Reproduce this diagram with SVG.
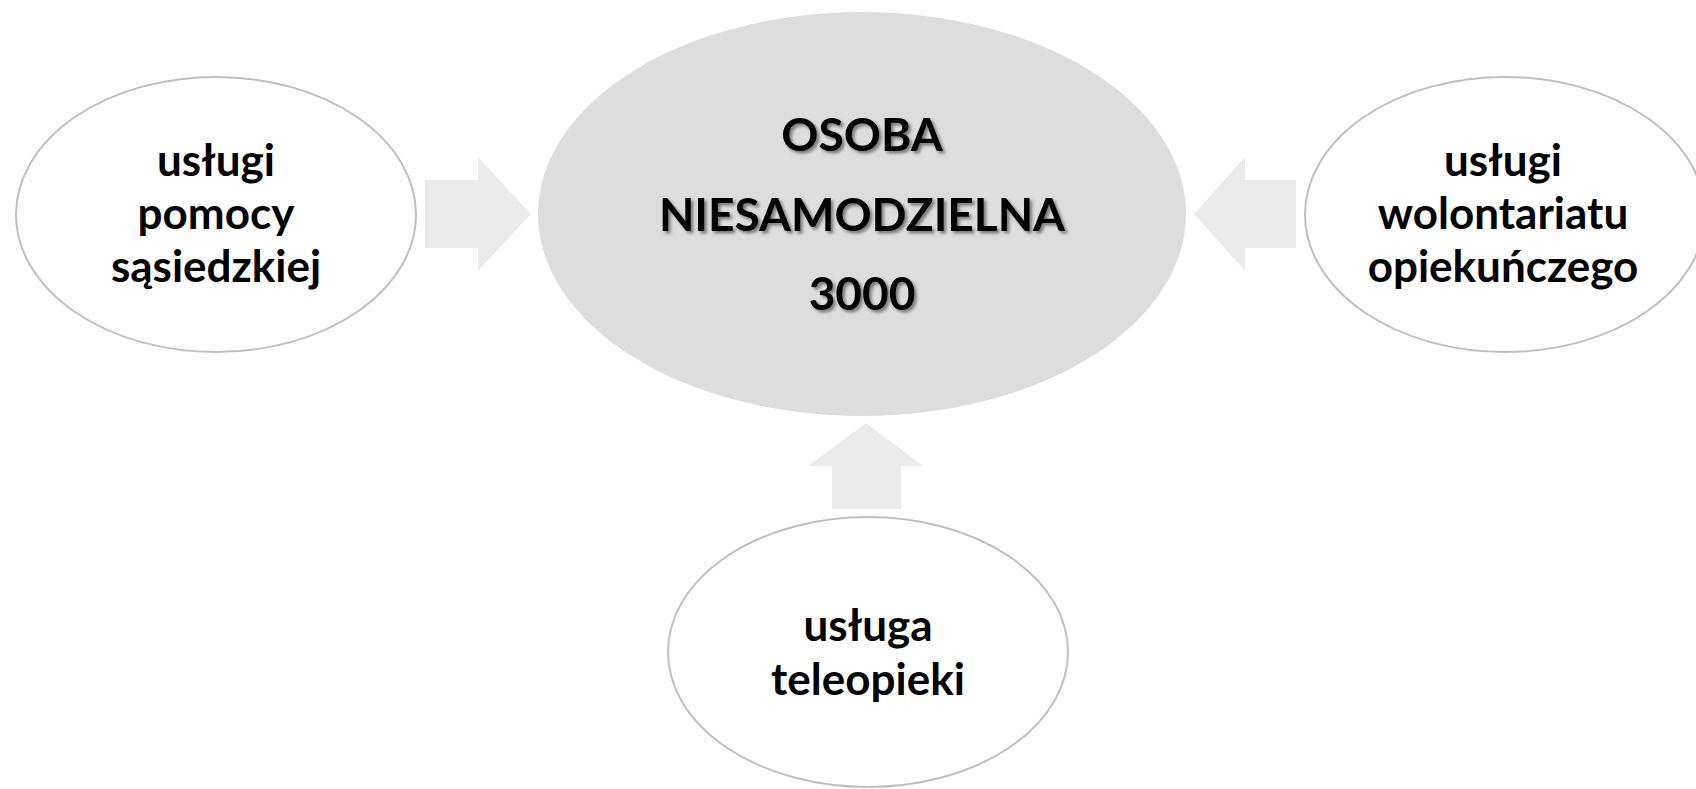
<svg xmlns="http://www.w3.org/2000/svg" width="1696" height="789" viewBox="0 0 1696 789">
  <defs>
    <filter id="shadow" x="-10%" y="-20%" width="120%" height="150%">
      <feDropShadow dx="2.5" dy="2.5" stdDeviation="1.8" flood-color="#000000" flood-opacity="0.45"/>
    </filter>
  </defs>
  <style>
    .outer { fill: #ffffff; stroke: #bfbfbf; stroke-width: 2; }
    .center { fill: #dddddd; }
    .arrow { fill: #ebebeb; }
    .lbl { font-family: Lato, "Open Sans", "Liberation Sans", sans-serif; font-weight: 700; font-size: 44px; fill: #000000; text-anchor: middle; }
    .clbl { font-family: Lato, "Open Sans", "Liberation Sans", sans-serif; font-weight: 700; font-size: 46px; fill: #000000; text-anchor: middle; filter: url(#shadow); }
  </style>
  <rect width="1696" height="789" fill="#ffffff"/>

  <g id="connectors">
    <path class="arrow" d="M425,180 H478 V157 L531,214 L478,271 V248 H425 Z"/>
    <path class="arrow" d="M1296,180 H1245 V157 L1194,214 L1245,271 V248 H1296 Z"/>
    <path class="arrow" d="M832,509 V466 H808 L866,423 L923,466 H901 V509 Z"/>
  </g>

  <g id="node-center">
    <ellipse class="center" cx="862" cy="214" rx="324" ry="202"/>
    <text class="clbl" x="862" y="151">OSOBA</text>
    <text class="clbl" x="862" y="231">NIESAMODZIELNA</text>
    <text class="clbl" x="862" y="310">3000</text>
  </g>

  <g id="node-left">
    <ellipse class="outer" cx="216" cy="214.5" rx="200" ry="137.5"/>
    <text class="lbl" x="216" y="176">usługi</text>
    <text class="lbl" x="216" y="229">pomocy</text>
    <text class="lbl" x="216" y="282">sąsiedzkiej</text>
  </g>

  <g id="node-right">
    <ellipse class="outer" cx="1505" cy="214.5" rx="200" ry="137.5"/>
    <text class="lbl" x="1503" y="176">usługi</text>
    <text class="lbl" x="1503" y="229">wolontariatu</text>
    <text class="lbl" x="1503" y="282">opiekuńczego</text>
  </g>

  <g id="node-bottom">
    <ellipse class="outer" cx="868" cy="652" rx="200" ry="135"/>
    <text class="lbl" x="868" y="641">usługa</text>
    <text class="lbl" x="868" y="695">teleopieki</text>
  </g>
</svg>
